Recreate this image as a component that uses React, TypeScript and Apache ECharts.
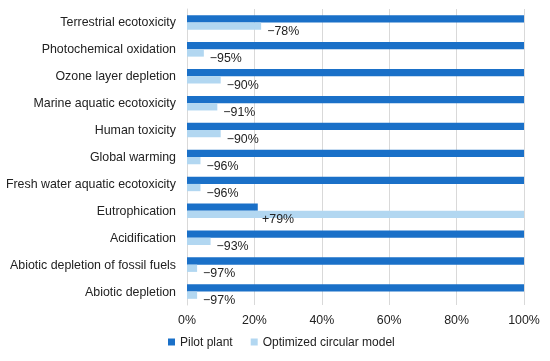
import React, { useEffect, useRef } from "react";
import * as echarts from "echarts";

const categories = [
  "Terrestrial ecotoxicity",
  "Photochemical oxidation",
  "Ozone layer depletion",
  "Marine aquatic ecotoxicity",
  "Human toxicity",
  "Global warming",
  "Fresh water aquatic ecotoxicity",
  "Eutrophication",
  "Acidification",
  "Abiotic depletion of fossil fuels",
  "Abiotic depletion",
];
const pilotPlant = [100, 100, 100, 100, 100, 100, 100, 21, 100, 100, 100];
const optimized = [22, 5, 10, 9, 10, 4, 4, 100, 7, 3, 3];
const changeLabels = ["−78%", "−95%", "−90%", "−91%", "−90%", "−96%", "−96%", "+79%", "−93%", "−97%", "−97%"];
const xTicks = [0, 20, 40, 60, 80, 100];

export default function App() {
  const ref = useRef<HTMLDivElement>(null);
  useEffect(() => {
    if (!ref.current) return;
    const chart = echarts.init(ref.current, null, { renderer: "svg" });
    const font = "Liberation Sans, Arial, sans-serif";
    const fs = 12.4;
    chart.setOption({
      animation: false,
      textStyle: { fontFamily: font },
      grid: { left: 187, right: 26, top: 9, bottom: 56, containLabel: false },
      legend: {
        top: 336,
        left: 168,
        padding: 0,
        itemWidth: 7,
        itemHeight: 7,
        itemGap: 18,
        icon: "rect",
        textStyle: {
          fontSize: 12,
          color: "#222",
          fontFamily: font,
        },
        data: ["Pilot plant", "Optimized circular model"],
      },
      xAxis: {
        type: "value",
        min: xTicks[0],
        max: xTicks[xTicks.length - 1],
        interval: 20,
        axisLine: { show: false },
        axisTick: { show: false },
        splitLine: { show: true, lineStyle: { color: "#d9d9d9", width: 1 } },
        axisLabel: {
          fontSize: fs,
          color: "#222",
          margin: 9,
          fontFamily: font,
          formatter: (v: number) => v + "%",
        },
      },
      yAxis: {
        type: "category",
        inverse: true,
        data: categories,
        axisLine: { show: true, lineStyle: { color: "#d9d9d9" } },
        axisTick: { show: false },
        axisLabel: { fontSize: fs, color: "#222", margin: 11, fontFamily: font },
      },
      series: [
        {
          name: "Pilot plant",
          type: "bar",
          data: pilotPlant,
          barGap: "0%",
          barCategoryGap: "46%",
          itemStyle: { color: "#1a70c8" },
        },
        {
          name: "Optimized circular model",
          type: "bar",
          data: optimized.map((v, i) =>
            v >= 100
              ? {
                  value: v,
                  label: {
                    show: true,
                    position: "insideLeft",
                    distance: 0,
                    offset: [75, 5],
                    formatter: changeLabels[i],
                  },
                }
              : v
          ),
          itemStyle: { color: "#b2d7f1" },
          label: {
            show: true,
            position: "right",
            distance: 6,
            offset: [0, 5],
            fontSize: fs,
            color: "#222",
            fontFamily: font,
            formatter: (p: any) => changeLabels[p.dataIndex],
          },
        },
      ],
    });
    return () => chart.dispose();
  }, []);
  return (
    <div
      ref={ref}
      style={{ position: "fixed", left: 0, top: 0, width: 550, height: 361 }}
    />
  );
}
